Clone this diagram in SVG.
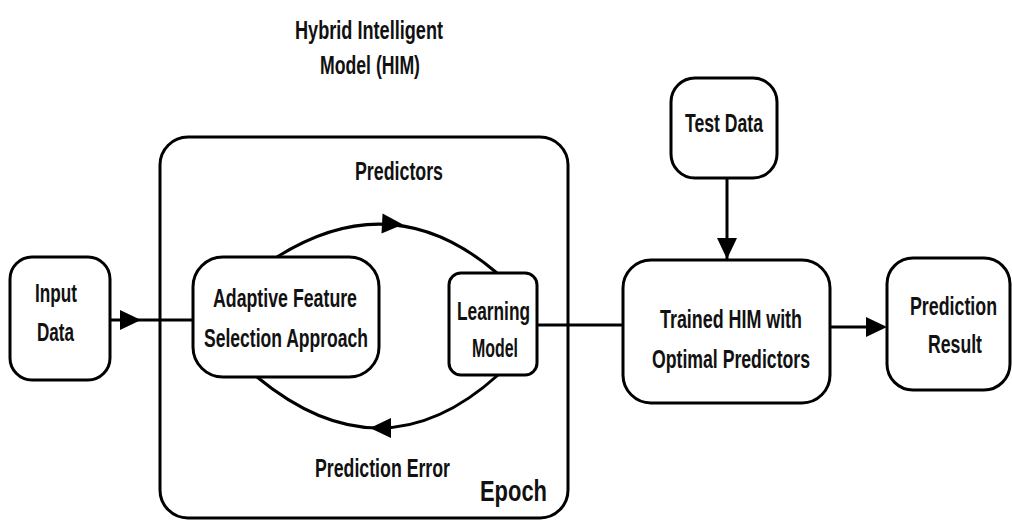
<svg xmlns="http://www.w3.org/2000/svg" width="1012" height="521" viewBox="0 0 1012 521">
  <style>
    .box { fill: #ffffff; stroke: #000000; stroke-width: 3; }
    .edge { fill: none; stroke: #000000; stroke-width: 3; }
    .lbl { font-family: "Liberation Sans", Arial, sans-serif; font-weight: bold; font-size: 26px; fill: #111111; text-anchor: middle; }
    .ttl { font-size: 25px; }
    .big { font-size: 29px; }
  </style>
  <defs>
    <path id="tri" d="M0,0 L-21,-10 L-21,10 Z" fill="#000000"/>
  </defs>
  <rect width="1012" height="521" fill="#ffffff"/>

  <!-- Title above the model container -->
  <g id="title">
    <text class="lbl ttl" x="369" y="39" textLength="148" lengthAdjust="spacingAndGlyphs">Hybrid Intelligent</text>
    <text class="lbl ttl" x="370" y="74" textLength="100" lengthAdjust="spacingAndGlyphs">Model (HIM)</text>
  </g>

  <!-- Epoch container -->
  <g id="epoch">
    <rect class="box" x="160" y="137" width="408" height="381" rx="28" ry="28"/>
    <text class="lbl big" x="513.5" y="501" textLength="67" lengthAdjust="spacingAndGlyphs">Epoch</text>
  </g>

  <!-- Connectors -->
  <g id="connectors">
    <line class="edge" x1="110" y1="320" x2="193" y2="320"/>
    <use href="#tri" transform="translate(141,320)"/>
    <path class="edge" d="M277,257 Q393,184 497,273"/>
    <use href="#tri" transform="translate(403,224.5) rotate(3)"/>
    <path class="edge" d="M257,377 Q382,480 498,375"/>
    <use href="#tri" transform="translate(370,428) rotate(180)"/>
    <line class="edge" x1="537" y1="325" x2="623" y2="325"/>
    <line class="edge" x1="727" y1="178" x2="727" y2="260"/>
    <use href="#tri" transform="translate(727,259) rotate(90)"/>
    <line class="edge" x1="830" y1="327" x2="870" y2="327"/>
    <use href="#tri" transform="translate(887,327)"/>
    <text class="lbl" x="399" y="180" textLength="88" lengthAdjust="spacingAndGlyphs">Predictors</text>
    <text class="lbl" x="382.5" y="477" textLength="135" lengthAdjust="spacingAndGlyphs">Prediction Error</text>
  </g>

  <g id="input-data">
    <rect class="box" x="10" y="257" width="100" height="123" rx="22" ry="22"/>
    <text class="lbl" x="56" y="302" textLength="42" lengthAdjust="spacingAndGlyphs">Input</text>
    <text class="lbl" x="55.5" y="341" textLength="37" lengthAdjust="spacingAndGlyphs">Data</text>
  </g>

  <g id="feature-selection">
    <rect class="box" x="193" y="257" width="186" height="120" rx="30" ry="30"/>
    <text class="lbl" x="285" y="307" textLength="144" lengthAdjust="spacingAndGlyphs">Adaptive Feature</text>
    <text class="lbl" x="286" y="347" textLength="164" lengthAdjust="spacingAndGlyphs">Selection Approach</text>
  </g>

  <g id="learning-model">
    <rect class="box" x="449" y="273" width="88" height="102" rx="12" ry="12"/>
    <text class="lbl" x="493.5" y="320" textLength="73" lengthAdjust="spacingAndGlyphs">Learning</text>
    <text class="lbl" x="495" y="357" textLength="46" lengthAdjust="spacingAndGlyphs">Model</text>
  </g>

  <g id="test-data">
    <rect class="box" x="671" y="78" width="106" height="100" rx="24" ry="24"/>
    <text class="lbl" x="724" y="132" textLength="78" lengthAdjust="spacingAndGlyphs">Test Data</text>
  </g>

  <g id="trained-him">
    <rect class="box" x="623" y="260" width="207" height="143" rx="28" ry="28"/>
    <text class="lbl" x="731" y="328" textLength="142" lengthAdjust="spacingAndGlyphs">Trained HIM with</text>
    <text class="lbl" x="731" y="368" textLength="158" lengthAdjust="spacingAndGlyphs">Optimal Predictors</text>
  </g>

  <g id="prediction-result">
    <rect class="box" x="887" y="258" width="123" height="132" rx="26" ry="26"/>
    <text class="lbl" x="953.5" y="315" textLength="87" lengthAdjust="spacingAndGlyphs">Prediction</text>
    <text class="lbl" x="955" y="353" textLength="54" lengthAdjust="spacingAndGlyphs">Result</text>
  </g>
</svg>
